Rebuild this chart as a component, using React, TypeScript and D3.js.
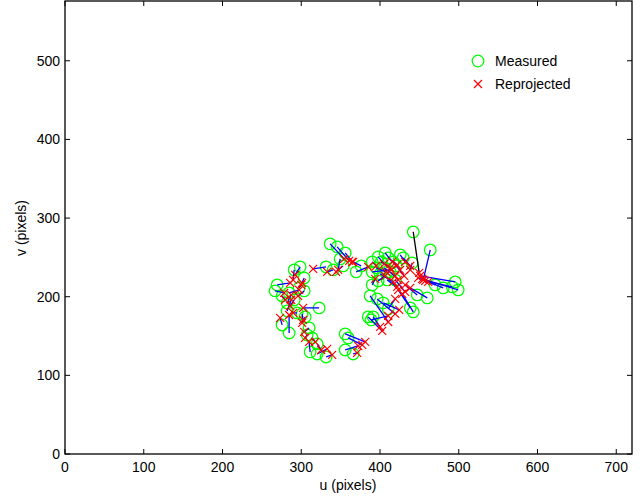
import React, { useEffect, useRef } from 'react';
import * as d3 from 'd3';

// measured points (u, v) in pixels
const measuredU = [336.7, 345.6, 355.8, 349.4, 331.6, 340.5, 353.2, 369.7, 376.1, 298.6, 291.0, 303.7, 269.4, 266.8, 275.7, 284.6, 297.3, 303.7, 291.0, 282.1, 282.1, 294.8, 322.7, 301.1, 275.7, 284.6, 304.9, 310.0, 307.5, 313.8, 320.2, 311.3, 320.2, 331.6, 385.0, 388.8, 355.8, 359.6, 355.8, 365.9, 442.2, 463.8, 495.5, 499.3, 491.7, 480.3, 470.1, 447.3, 460.0, 438.4, 442.2, 387.5, 396.4, 404.1, 391.3, 406.6, 397.7, 390.1, 401.5, 410.4, 416.8, 395.2, 405.3, 412.9, 420.6, 400.2, 390.1, 409.1, 440.9, 425.7, 429.5, 397.7, 390.1, 419.3, 410.4];
const measuredV = [267.2, 263.4, 255.7, 248.1, 237.9, 234.1, 239.2, 231.6, 239.2, 237.9, 234.1, 223.9, 215.0, 207.4, 201.0, 204.8, 211.2, 207.4, 195.9, 192.1, 181.9, 179.4, 185.8, 178.1, 164.1, 153.9, 174.3, 160.3, 151.4, 147.6, 140.0, 129.8, 127.2, 123.4, 174.3, 170.5, 152.7, 147.6, 132.3, 127.2, 282.5, 259.5, 218.8, 208.7, 212.5, 211.2, 215.0, 202.3, 198.5, 185.8, 180.7, 201.0, 197.2, 192.1, 174.3, 255.7, 250.6, 244.3, 244.3, 249.4, 244.3, 236.6, 236.6, 231.6, 239.2, 229.0, 231.6, 221.4, 243.0, 253.2, 249.4, 220.1, 215.0, 221.4, 184.5];

// reprojected points (u, v) in pixels
const reprojU = [354.5, 360.9, 364.7, 346.9, 315.1, 332.9, 344.3, 385.0, 365.9, 292.2, 289.7, 299.9, 285.9, 278.3, 279.5, 297.3, 301.1, 296.0, 285.9, 287.2, 287.2, 289.7, 302.4, 302.4, 273.2, 284.6, 301.1, 303.7, 304.9, 317.7, 325.3, 310.0, 332.9, 339.2, 402.8, 410.4, 381.2, 377.4, 372.3, 371.0, 449.8, 454.9, 451.1, 453.6, 457.4, 461.2, 448.5, 432.0, 438.4, 423.1, 428.2, 410.4, 419.3, 424.4, 400.2, 415.5, 405.3, 395.2, 412.9, 421.8, 425.7, 407.9, 419.3, 423.1, 430.7, 416.8, 414.2, 421.8, 438.4, 432.0, 438.4, 406.6, 393.9, 432.0, 419.3];
const reprojV = [248.1, 245.6, 244.3, 234.1, 235.4, 231.6, 231.6, 237.9, 244.3, 227.7, 221.4, 215.0, 217.6, 204.8, 195.9, 208.7, 217.6, 201.0, 188.3, 202.3, 195.9, 179.4, 185.8, 170.5, 173.0, 176.8, 166.7, 155.2, 147.6, 142.5, 132.3, 142.5, 133.6, 126.0, 156.5, 175.6, 142.5, 138.7, 137.4, 128.5, 230.3, 221.4, 226.5, 222.7, 220.1, 218.8, 223.9, 215.0, 211.2, 208.7, 203.6, 167.9, 178.1, 183.2, 161.6, 244.3, 241.7, 239.2, 236.6, 240.5, 234.1, 231.6, 226.5, 221.4, 226.5, 218.8, 234.1, 212.5, 234.1, 244.3, 239.2, 226.5, 222.7, 206.1, 197.2];

// which error line is drawn in black
const blackLines = [40];

const xTicks = [0, 100, 200, 300, 400, 500, 600, 700];
const yTicks = [0, 100, 200, 300, 400, 500];

const App = () => {
  const ref = useRef<SVGSVGElement>(null);

  useEffect(() => {
    const svg = d3.select(ref.current);
    svg.selectAll('*').remove();

    const x = d3.scaleLinear().domain([0, 720]).range([65, 632]);
    const y = d3.scaleLinear().domain([0, 576]).range([454, 1]);
    const font = 'Liberation Sans, Arial, sans-serif';

    svg.append('rect')
      .attr('x', 0).attr('y', 0).attr('width', 644).attr('height', 497)
      .attr('fill', 'white');

    const plot = svg.append('g');

    // circles
    plot.selectAll('.meas')
      .data(measuredU)
      .join('circle')
      .attr('class', 'meas')
      .attr('cx', d => x(d))
      .attr('cy', (d, i) => y(measuredV[i]))
      .attr('r', 5.8)
      .attr('fill', 'none')
      .attr('stroke', '#00ff00')
      .attr('stroke-width', 1.3);

    // error lines
    plot.selectAll('.err')
      .data(measuredU)
      .join('line')
      .attr('class', 'err')
      .attr('x1', d => x(d))
      .attr('y1', (d, i) => y(measuredV[i]))
      .attr('x2', (d, i) => x(reprojU[i]))
      .attr('y2', (d, i) => y(reprojV[i]))
      .attr('stroke', (d, i) => (blackLines.includes(i) ? '#000000' : '#0000ff'))
      .attr('stroke-width', 1.3);

    // crosses
    const cross = (g, cx, cy, s) => {
      g.append('path')
        .attr('d', `M${cx - s},${cy - s}L${cx + s},${cy + s}M${cx - s},${cy + s}L${cx + s},${cy - s}`)
        .attr('stroke', '#ff0000')
        .attr('stroke-width', 1.2)
        .attr('fill', 'none');
    };
    reprojU.forEach((u, i) => cross(plot, x(u), y(reprojV[i]), 4));

    // axes box
    svg.append('rect')
      .attr('x', 65).attr('y', 1).attr('width', 632 - 65).attr('height', 453)
      .attr('fill', 'none')
      .attr('stroke', 'black')
      .attr('stroke-width', 1.3);

    const tickLen = 5;
    xTicks.forEach(t => {
      svg.append('line')
        .attr('x1', x(t)).attr('x2', x(t)).attr('y1', 454).attr('y2', 454 - tickLen)
        .attr('stroke', 'black');
      svg.append('line')
        .attr('x1', x(t)).attr('x2', x(t)).attr('y1', 1).attr('y2', 1 + tickLen)
        .attr('stroke', 'black');
      svg.append('text')
        .attr('x', x(t)).attr('y', 472)
        .attr('text-anchor', 'middle')
        .style('font-family', font).style('font-size', '14px')
        .text(t);
    });
    yTicks.forEach(t => {
      svg.append('line')
        .attr('x1', 65).attr('x2', 65 + tickLen).attr('y1', y(t)).attr('y2', y(t))
        .attr('stroke', 'black');
      svg.append('line')
        .attr('x1', 632).attr('x2', 632 - tickLen).attr('y1', y(t)).attr('y2', y(t))
        .attr('stroke', 'black');
      svg.append('text')
        .attr('x', 60).attr('y', y(t) + 5)
        .attr('text-anchor', 'end')
        .style('font-family', font).style('font-size', '14px')
        .text(t);
    });

    svg.append('text')
      .attr('x', 348).attr('y', 490)
      .attr('text-anchor', 'middle')
      .style('font-family', font).style('font-size', '14px')
      .text('u (pixels)');
    svg.append('text')
      .attr('transform', 'translate(26, 228) rotate(-90)')
      .attr('text-anchor', 'middle')
      .style('font-family', font).style('font-size', '14px')
      .text('v (pixels)');

    // legend
    const lg = svg.append('g');
    lg.append('circle')
      .attr('cx', 478).attr('cy', 61).attr('r', 5.8)
      .attr('fill', 'none').attr('stroke', '#00ff00').attr('stroke-width', 1.3);
    lg.append('text')
      .attr('x', 495).attr('y', 66)
      .style('font-family', font).style('font-size', '14px')
      .text('Measured');
    cross(lg, 478, 84, 4);
    lg.append('text')
      .attr('x', 495).attr('y', 89)
      .style('font-family', font).style('font-size', '14px')
      .text('Reprojected');
  }, []);

  return (
    <svg
      ref={ref}
      width={644}
      height={497}
      style={{ position: 'fixed', left: 0, top: 0 }}
    />
  );
};

export default App;
